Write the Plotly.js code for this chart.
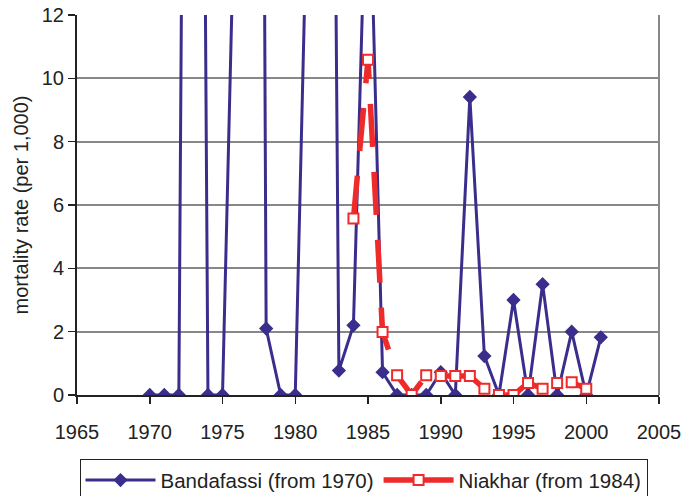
<!DOCTYPE html>
<html>
<head>
<meta charset="utf-8">
<script src="https://cdn.plot.ly/plotly-3.0.1.min.js"></script>
<style>
  html, body { margin: 0; padding: 0; background: #fff; }
  #chart { width: 682px; height: 496px; }
</style>
</head>
<body>
<div id="chart"></div>
<script>
// Bandafassi (from 1970): yearly mortality rate per 1,000 (values above 12 run off the chart)
const bandafassiYears = [1970,1971,1972,1973,1974,1975,1976,1977,1978,1979,1980,1981,1982,1983,1984,1985,1986,1987,1988,1989,1990,1991,1992,1993,1994,1995,1996,1997,1998,1999,2000,2001];
const bandafassiRate  = [0,0,0,70,0,0,19,100,2.1,0,0,19.3,59,0.77,2.2,18.5,0.72,0,0,0,0.72,0,9.41,1.23,0,3.0,0,3.5,0,2.0,0,1.82];

// Niakhar (from 1984)
const niakharYears = [1984,1985,1986,1987,1988,1989,1990,1991,1992,1993,1994,1995,1996,1997,1998,1999,2000];
const niakharRate  = [5.57,10.59,1.99,0.62,0,0.62,0.6,0.6,0.6,0.2,0,0,0.38,0.2,0.38,0.4,0.2];

const seriesNames = ["Bandafassi (from 1970)", "Niakhar (from 1984)"];
const xTicks = [1965,1970,1975,1980,1985,1990,1995,2000,2005];
const yTicks = [0,2,4,6,8,10,12];

const BLUE = "#3a2e8c";
const RED = "#ee2a2a";
const FONT = "Liberation Sans, Arial, Helvetica, sans-serif";

const blueLine = { color: BLUE, width: 3 };
const blueMarker = { symbol: "diamond", size: 11, color: BLUE };
const redMarker = { symbol: "square", size: 10, color: "#ffffff", line: { color: RED, width: 2 } };

const traces = [
  {
    x: bandafassiYears, y: bandafassiRate, name: seriesNames[0],
    type: "scatter", mode: "lines+markers",
    line: blueLine, marker: blueMarker,
    cliponaxis: true, showlegend: false
  },
  {
    x: niakharYears, y: niakharRate, name: seriesNames[1],
    type: "scatter", mode: "lines+markers",
    line: { color: RED, width: 5.5, dash: "43px,25px" },
    marker: redMarker,
    cliponaxis: true, showlegend: false
  },
  // legend keys (solid lines, as in the reference legend)
  { x: [null], y: [null], name: seriesNames[0], type: "scatter", mode: "lines+markers",
    line: blueLine, marker: blueMarker, showlegend: true },
  { x: [null], y: [null], name: seriesNames[1], type: "scatter", mode: "lines+markers",
    line: { color: RED, width: 5.5 }, marker: redMarker, showlegend: true }
];

const layout = {
  width: 682, height: 496,
  margin: { l: 77, r: 23, t: 15, b: 101, pad: 0 },
  paper_bgcolor: "#ffffff", plot_bgcolor: "#ffffff",
  font: { family: FONT, size: 20, color: "#222222" },
  showlegend: true,
  legend: {
    orientation: "h", xref: "container", yref: "container",
    x: 0.533, xanchor: "center", y: 0.074, yanchor: "top",
    bordercolor: "#222222", borderwidth: 1, bgcolor: "#ffffff",
    font: { family: FONT, size: 20.5, color: "#222222" },
    itemwidth: 70, tracegroupgap: 0
  },
  xaxis: {
    range: [1965, 2005], tickvals: xTicks, ticktext: xTicks.map(String),
    showgrid: false, zeroline: false,
    showline: true, linecolor: "#222222", linewidth: 2,
    ticks: "outside", ticklen: 7, tickwidth: 1.5, tickcolor: "#222222",
    ticklabelstandoff: 11,
    tickfont: { family: FONT, size: 20, color: "#222222" }
  },
  yaxis: {
    range: [0, 12], tickvals: yTicks, ticktext: yTicks.map(String),
    showgrid: true, gridcolor: "#888888", gridwidth: 2,
    zeroline: false,
    showline: true, linecolor: "#222222", linewidth: 2,
    ticks: "outside", ticklen: 7, tickwidth: 1.5, tickcolor: "#222222",
    tickfont: { family: FONT, size: 20, color: "#222222" },
    title: { text: "mortality rate (per 1,000)", font: { family: FONT, size: 20, color: "#222222" }, standoff: 8 }
  },
  shapes: [
    { type: "line", xref: "paper", yref: "paper", x0: 1, x1: 1, y0: 0, y1: 1,
      line: { color: "#888888", width: 2 }, layer: "below" }
  ]
};

Plotly.newPlot("chart", traces, layout, { displayModeBar: false, staticPlot: true });
</script>
</body>
</html>
